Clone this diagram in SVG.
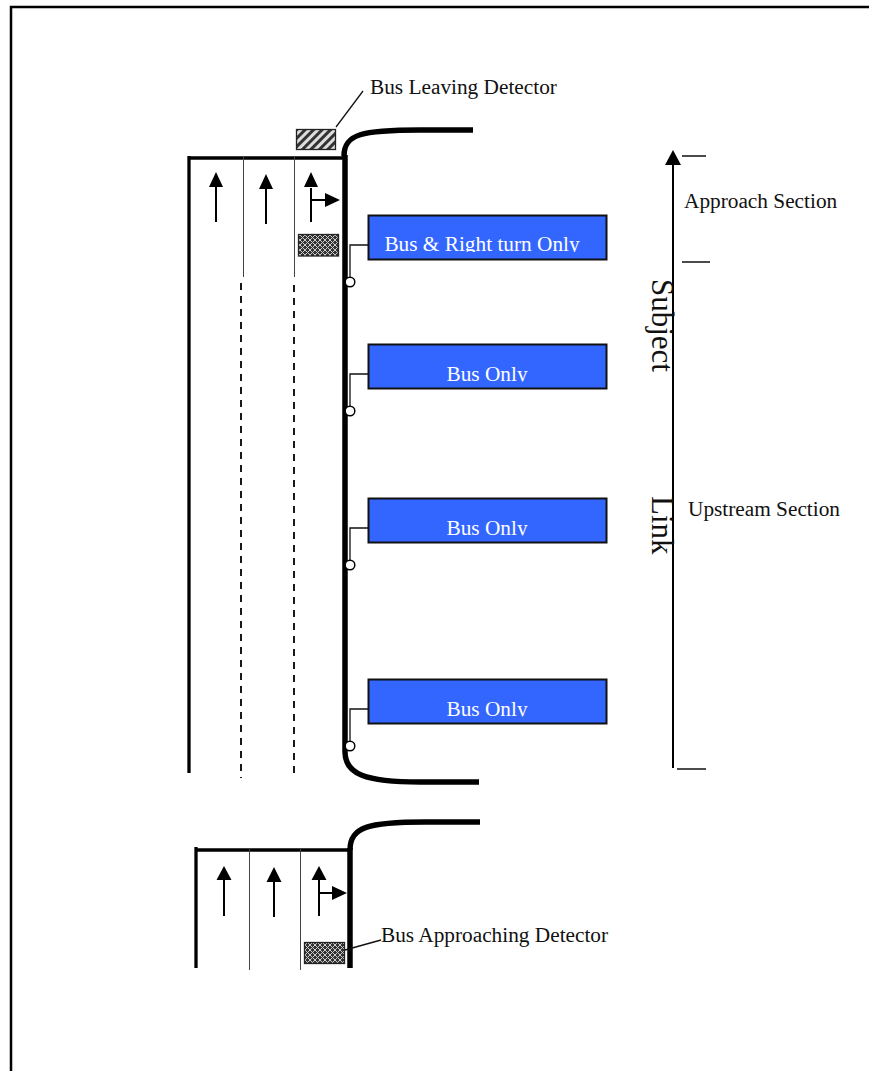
<svg xmlns="http://www.w3.org/2000/svg" width="869" height="1071" viewBox="0 0 869 1071">
<style>
text{font-family:"Liberation Serif","Times New Roman",serif;font-size:21.3px;fill:#111}
.sign text{fill:#fff;text-anchor:middle}
.sign rect{fill:#3366ff;stroke:#111;stroke-width:2}
.thick{fill:none;stroke:#000;stroke-width:3.300}
.curb{fill:none;stroke:#000;stroke-width:5.500}
.thin{fill:none;stroke:#444;stroke-width:1}
.dash{fill:none;stroke:#000;stroke-width:1.800;stroke-dasharray:7 6}
.arr{fill:none;stroke:#000;stroke-width:2}
.lead{fill:none;stroke:#111;stroke-width:1.300}
.head{fill:#000}
.post{fill:#fff;stroke:#000;stroke-width:1.500}
</style>
<defs>
<pattern id="hatch" width="6" height="6" patternUnits="userSpaceOnUse" patternTransform="rotate(45)"><rect width="6" height="6" fill="#ddd"/><rect width="3" height="6" fill="#333"/></pattern>
<pattern id="cross" width="5" height="5" patternUnits="userSpaceOnUse"><rect width="5" height="5" fill="#333"/><path d="M0 0L5 5M5 0L0 5" stroke="#ccc" stroke-width="1"/></pattern>
<clipPath id="c1"><rect x="369" y="216" width="237" height="36"/></clipPath>
<clipPath id="c2"><rect x="369" y="345" width="237" height="36.500"/></clipPath>
<clipPath id="c3"><rect x="369" y="499" width="237" height="36.500"/></clipPath>
<clipPath id="c4"><rect x="369" y="680" width="237" height="36.500"/></clipPath>
</defs>
<rect id="frame" x="11" y="7" width="880" height="1090" fill="#fff" stroke="#000" stroke-width="2.500"/>
<g id="connectors">
<path class="thick" d="M189 156V773M188 158H345"/>
<path class="curb" d="M344 156C344 134 362 130 420 130H473"/>
<path class="curb" d="M345 155V752C345 774 365 782 420 782H479"/>
<path class="thin" d="M243.500 156V277M294.500 156V277"/>
<path class="dash" d="M241 283V778M294 285V778"/>
<path class="arr" d="M216 222V186M266 224V188M311 222V188M311 200H326"/>
<path class="head" d="M216 172L223 187H209ZM266 174L273 189H259ZM311 172L318 187H304ZM340 200L325 193V207Z"/>
<path class="lead" d="M336 127L363 91"/>
<path class="lead" d="M369 245H350V282M369 374H350V411M369 528H350V565M369 709H350V746"/>
<path class="thick" d="M196 847V968M195 850H350"/>
<path class="curb" d="M350 850C350 827 368 822 425 822H480"/>
<path class="curb" d="M350 848V968"/>
<path class="thin" d="M249.500 849V970M300.500 849V970"/>
<path class="arr" d="M224 916V880M274 917V882M319 916V880M319 893H334"/>
<path class="head" d="M224 866L231.500 880H216.500ZM274 867L281.500 882H266.500ZM319 866L326.500 880H311.500ZM347 893L332 886V900Z"/>
<path class="lead" d="M345 950L381 940"/>
<path class="arr" d="M673 768V160"/>
<path class="head" d="M673 150L681 165H665Z"/>
<path class="lead" d="M682 156H706M682 262H710M677 769H706"/>
</g>
<g id="leaving-detector"><rect x="296.500" y="129.500" width="39" height="20" fill="url(#hatch)" stroke="#222" stroke-width="1.300"/></g>
<g id="stop-detector"><rect x="298.500" y="234.500" width="40" height="21.500" fill="url(#cross)" stroke="#222" stroke-width="1.300"/></g>
<g id="approaching-detector"><rect x="304.500" y="942.500" width="40" height="21" fill="url(#cross)" stroke="#222" stroke-width="1.300"/></g>
<g id="post-1"><circle class="post" cx="350" cy="282" r="4.800"/></g>
<g id="post-2"><circle class="post" cx="350" cy="411" r="4.800"/></g>
<g id="post-3"><circle class="post" cx="350" cy="565" r="4.800"/></g>
<g id="post-4"><circle class="post" cx="350" cy="746" r="4.800"/></g>
<g id="sign-1" class="sign"><rect x="368.500" y="215.500" width="238" height="44"/><g clip-path="url(#c1)"><text x="482" y="251">Bus &amp; Right turn Only</text></g></g>
<g id="sign-2" class="sign"><rect x="368.500" y="344.500" width="238" height="44"/><g clip-path="url(#c2)"><text x="487" y="380.500">Bus Only</text></g></g>
<g id="sign-3" class="sign"><rect x="368.500" y="498.500" width="238" height="44"/><g clip-path="url(#c3)"><text x="487" y="534.500">Bus Only</text></g></g>
<g id="sign-4" class="sign"><rect x="368.500" y="679.500" width="238" height="44"/><g clip-path="url(#c4)"><text x="487" y="715.500">Bus Only</text></g></g>
<g id="labels">
<text x="370" y="93.500">Bus Leaving Detector</text>
<text x="684" y="207.500">Approach Section</text>
<text x="688" y="515.500">Upstream Section</text>
<text x="381" y="941.500">Bus Approaching Detector</text>
<text transform="translate(652 279) rotate(90)" style="font-size:31px">Subject</text>
<text transform="translate(652 496) rotate(90)" style="font-size:31px">Link</text>
</g>
</svg>
